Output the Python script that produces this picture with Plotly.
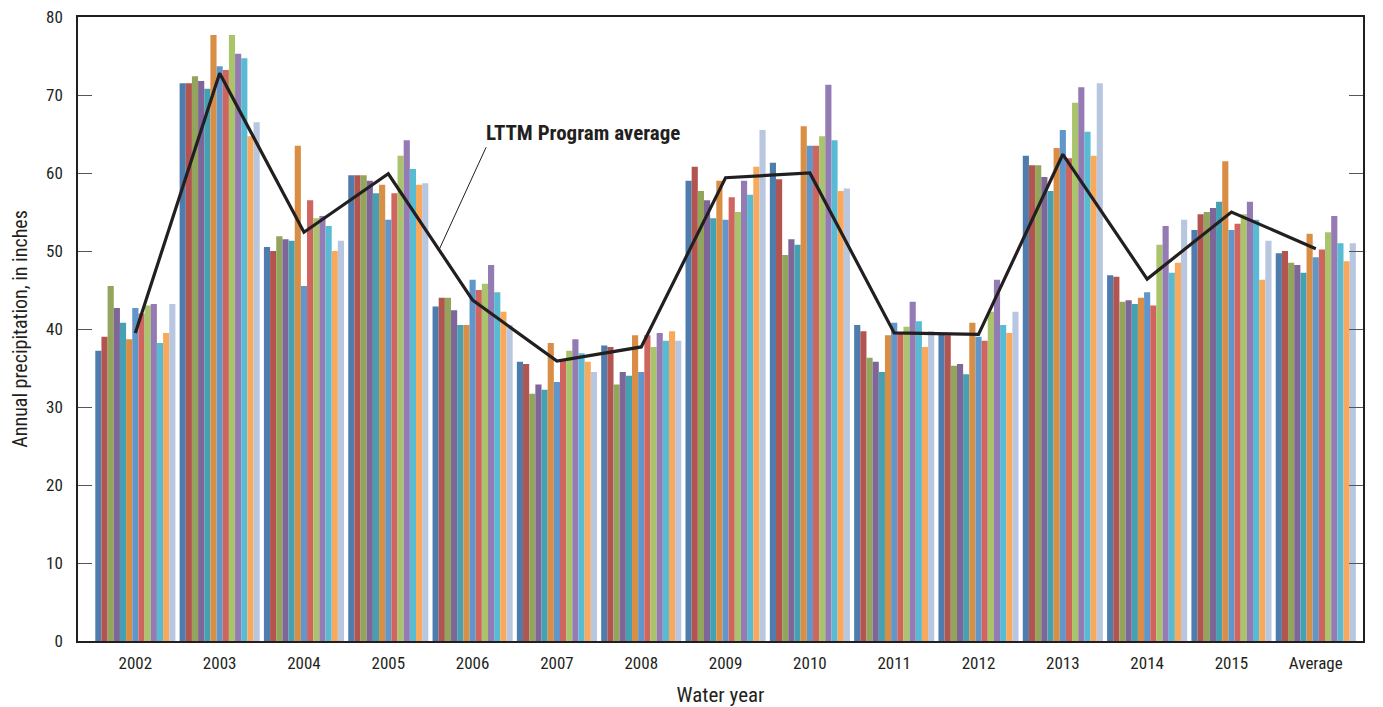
import plotly.graph_objects as go

years = ["2002", "2003", "2004", "2005", "2006", "2007", "2008", "2009", "2010",
         "2011", "2012", "2013", "2014", "2015", "Average"]

# Annual precipitation (inches) for 13 sites, one list per site (values per water year)
site_01 = [37.2, 71.5, 50.5, 59.7, 42.9, 35.8, 37.9, 59.0, 61.3, 40.5, 39.4, 62.2, 46.9, 52.7, 49.7]
site_02 = [39.0, 71.5, 50.0, 59.7, 44.0, 35.5, 37.7, 60.8, 59.2, 39.7, 39.2, 61.0, 46.7, 54.7, 50.0]
site_03 = [45.5, 72.4, 51.9, 59.7, 44.0, 31.7, 32.9, 57.7, 49.5, 36.3, 35.3, 61.0, 43.5, 55.0, 48.5]
site_04 = [42.7, 71.8, 51.5, 59.0, 42.4, 32.9, 34.5, 56.5, 51.5, 35.8, 35.5, 59.5, 43.7, 55.5, 48.2]
site_05 = [40.8, 70.8, 51.3, 57.4, 40.5, 32.2, 34.0, 54.2, 50.8, 34.5, 34.2, 57.7, 43.2, 56.3, 47.2]
site_06 = [38.7, 77.7, 63.5, 58.5, 40.5, 38.2, 39.2, 59.0, 66.0, 39.2, 40.8, 63.2, 44.0, 61.5, 52.2]
site_07 = [42.7, 73.7, 45.5, 54.0, 46.3, 33.2, 34.5, 54.0, 63.5, 40.8, 39.0, 65.5, 44.7, 52.7, 49.2]
site_08 = [42.0, 73.2, 56.5, 57.4, 45.0, 35.9, 39.2, 56.9, 63.5, 39.5, 38.5, 61.9, 43.0, 53.5, 50.2]
site_09 = [43.0, 77.7, 54.2, 62.2, 45.8, 37.2, 37.7, 55.0, 64.7, 40.3, 42.2, 69.0, 50.8, 54.7, 52.4]
site_10 = [43.2, 75.3, 54.5, 64.2, 48.2, 38.7, 39.5, 59.0, 71.3, 43.5, 46.3, 71.0, 53.2, 56.3, 54.5]
site_11 = [38.2, 74.7, 53.2, 60.5, 44.7, 36.9, 38.5, 57.2, 64.2, 41.0, 40.5, 65.3, 47.2, 54.0, 51.0]
site_12 = [39.5, 64.7, 50.0, 58.5, 42.2, 35.8, 39.7, 60.8, 57.7, 37.7, 39.5, 62.2, 48.5, 46.3, 48.7]
site_13 = [43.2, 66.5, 51.3, 58.7, 40.5, 34.5, 38.5, 65.5, 58.0, 39.7, 42.2, 71.5, 54.0, 51.3, 51.0]

lttm_average = [39.5, 72.8, 52.4, 59.9, 43.7, 35.9, 37.7, 59.4, 60.0, 39.5, 39.3, 62.4, 46.4, 55.0, 50.3]

sites = [site_01, site_02, site_03, site_04, site_05, site_06, site_07,
         site_08, site_09, site_10, site_11, site_12, site_13]
site_names = ["Site %d" % (i + 1) for i in range(len(sites))]
colors = ["#4E7DAD", "#B2544F", "#93A55C", "#7E6699", "#45A0B2", "#D98E45", "#6196CA",
          "#D0645F", "#A9C46B", "#957BB3", "#58BAD3", "#F9A95B", "#B8C6E0"]

FONT = "Liberation Sans Narrow, Roboto Condensed, Arial Narrow, Liberation Sans, sans-serif"

fig = go.Figure()
for name, vals, c in zip(site_names, sites, colors):
    fig.add_trace(go.Bar(x=years, y=vals, name=name, marker=dict(color=c, line=dict(width=0)),
                         showlegend=False))

fig.add_trace(go.Scatter(x=years, y=lttm_average, mode="lines", name="LTTM Program average",
                         line=dict(color="#231F20", width=3.2), showlegend=False))

# leader line for the label
fig.add_shape(type="line", x0=3.6, y0=50.1, x1=4.16, y1=63.3, xref="x", yref="y",
              line=dict(color="#231F20", width=1))
fig.add_annotation(x=4.14, y=65.1, xref="x", yref="y", text="<b>LTTM Program average</b>",
                   showarrow=False, xanchor="left", yanchor="middle",
                   font=dict(family=FONT, size=21, color="#231F20"))

fig.update_layout(
    width=1375, height=699,
    margin=dict(l=70, r=20, t=9, b=66, autoexpand=False),
    paper_bgcolor="white", plot_bgcolor="white",
    barmode="group", bargap=0.05, bargroupgap=0,
    font=dict(family=FONT, color="#231F20"),
)
fig.update_xaxes(
    type="category", range=[-0.68, 14.56], automargin=False,
    showline=True, linecolor="#231F20", linewidth=1.5, mirror=True,
    ticks="", showgrid=False, ticklabelstandoff=6, ticklabeloverflow="allow",
    tickfont=dict(size=17, family=FONT, color="#231F20"),
    title=dict(text="Water year", font=dict(size=21, family=FONT, color="#231F20"), standoff=16),
)
fig.update_yaxes(
    range=[0, 80], tickvals=[0, 10, 20, 30, 40, 50, 60, 70, 80], automargin=False,
    showline=True, linecolor="#231F20", linewidth=1.5, mirror="ticks",
    ticks="inside", ticklen=14, tickwidth=1.2, tickcolor="#555555",
    showgrid=False, zeroline=False, ticklabelstandoff=10, ticklabeloverflow="allow",
    tickfont=dict(size=17, family=FONT, color="#231F20"),
    title=dict(text="Annual precipitation, in inches", font=dict(size=20, family=FONT, color="#231F20"), standoff=16),
)

fig.write_html("out.html")
